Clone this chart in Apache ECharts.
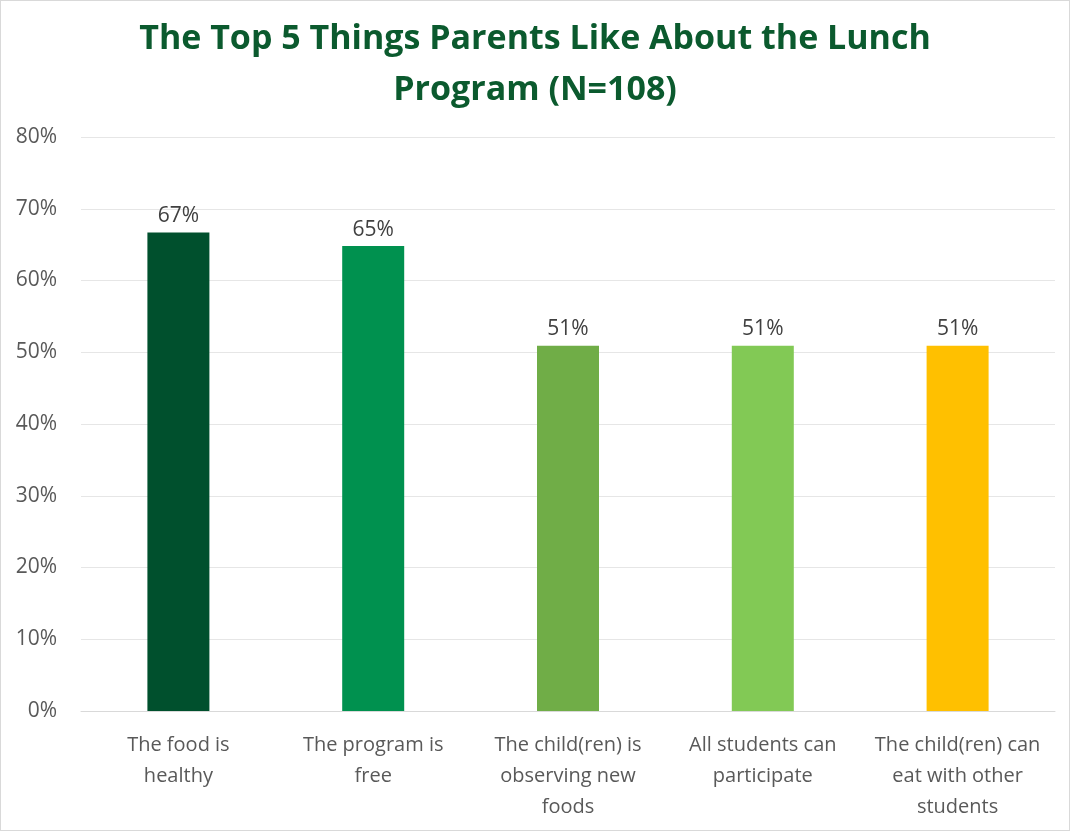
<!DOCTYPE html>
<html><head><meta charset="utf-8">
<script src="https://cdn.jsdelivr.net/npm/echarts@6/dist/echarts.min.js"></script>
<style>html,body{margin:0;padding:0;background:#fff}#c{width:1068px;height:829px;border:1px solid #d9d9d9}</style>
</head><body><div id="c"></div>
<script>
const categories = ["The food is\nhealthy", "The program is\nfree", "The child(ren) is\nobserving new\nfoods", "All students can\nparticipate", "The child(ren) can\neat with other\nstudents"];
const values = [66.7, 64.8, 50.9, 50.9, 50.9];
const labels = ["67%", "65%", "51%", "51%", "51%"];
const colors = ["#00502d", "#00914f", "#70ad47", "#82c955", "#ffc000"];
const yTicks = [0, 10, 20, 30, 40, 50, 60, 70, 80];

const chart = echarts.init(document.getElementById('c'));
chart.setOption({
  animation: false,
  title: {
    text: "The Top 5 Things Parents Like About the Lunch\nProgram (N=108)",
    left: 'center', top: 8,
    textStyle: {fontFamily: 'Open Sans', fontWeight: 'bold', fontSize: 34, color: '#0b5a2e', lineHeight: 51}
  },
  grid: {left: 80, right: 14, top: 136, bottom: 119},
  xAxis: {
    type: 'category', data: categories,
    axisLine: {lineStyle: {color: '#d9d9d9'}}, axisTick: {show: false},
    axisLabel: {interval: 0, color: '#595959', fontFamily: 'Open Sans', fontSize: 20, lineHeight: 31, margin: 19, verticalAlign: 'top'}
  },
  yAxis: {
    type: 'value', min: yTicks[0], max: yTicks[yTicks.length - 1], interval: 10,
    axisLabel: {formatter: v => v + '%', color: '#595959', fontFamily: 'Open Sans', fontSize: 21, margin: 24},
    splitLine: {lineStyle: {color: '#e6e6e6'}}, axisLine: {show: false}, axisTick: {show: false}
  },
  series: [{
    type: 'bar', barWidth: 62,
    data: values.map((v, i) => ({value: v, itemStyle: {color: colors[i]}})),
    label: {show: true, position: 'top', distance: 6, color: '#404040', fontFamily: 'Open Sans', fontSize: 21,
      formatter: p => labels[p.dataIndex]}
  }]
});
</script></body></html>
